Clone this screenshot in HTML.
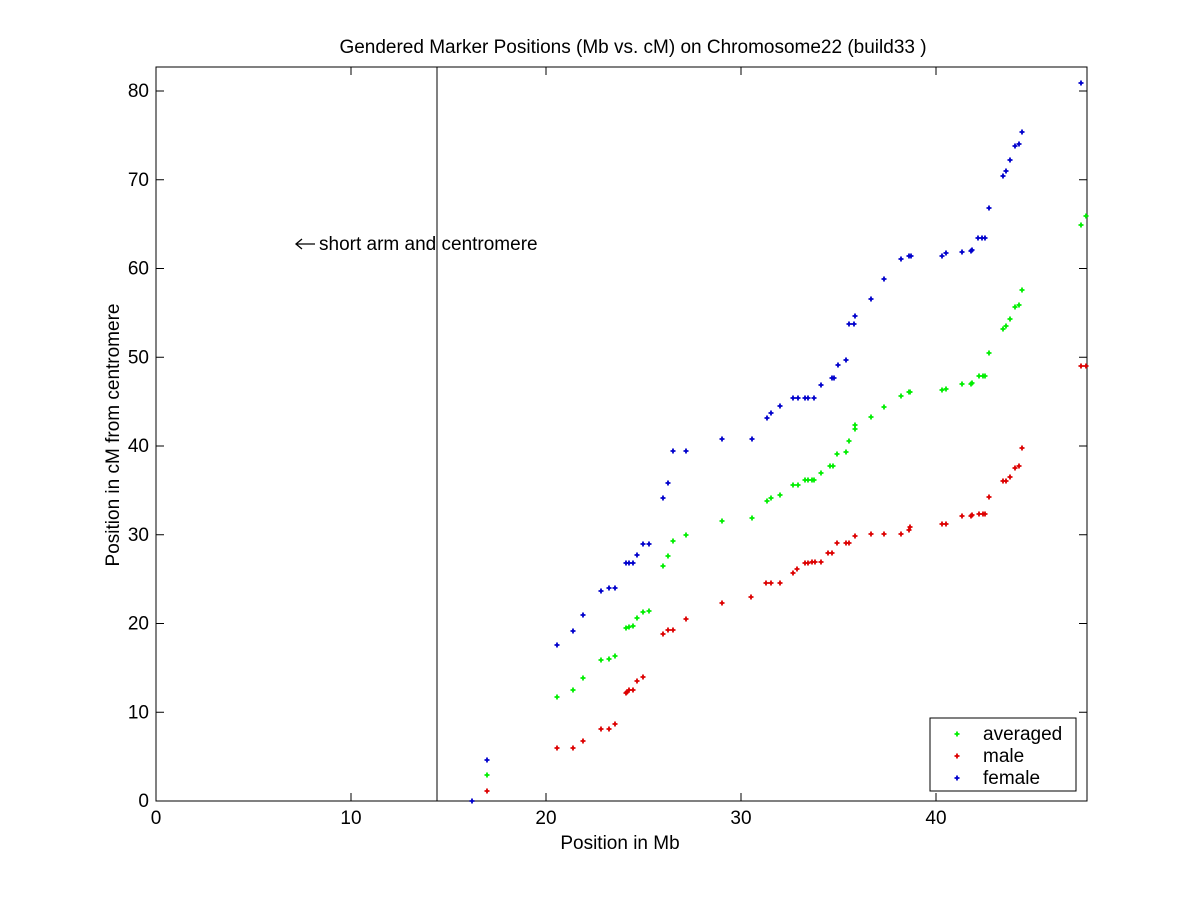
<!DOCTYPE html>
<html><head><meta charset="utf-8"><style>
body{margin:0;background:#fff}
svg{display:block}
text{font-family:"Liberation Sans",sans-serif;font-size:19px;fill:#000}
</style></head><body>
<svg id="s" width="1200" height="900" xmlns="http://www.w3.org/2000/svg">
<rect width="1200" height="900" fill="#fff"/>
<rect x="156" y="67" width="931" height="734" fill="none" stroke="#000" stroke-width="1"/>
<line x1="437" y1="67" x2="437" y2="801" stroke="#000"/>
<g id="ticks" stroke="#000"></g>
<g id="pts"></g>
<text x="633" y="53" text-anchor="middle" font-size="18.3">Gendered Marker Positions (Mb vs. cM) on Chromosome22 (build33 )</text>
<text x="620" y="849" text-anchor="middle">Position in Mb</text>
<text transform="translate(119,435) rotate(-90)" text-anchor="middle">Position in cM from centromere</text>
<line x1="297" y1="244" x2="315" y2="244" stroke="#000" stroke-width="1.3"/>
<path d="M302 239 L296 244 L302 249" fill="none" stroke="#000" stroke-width="1.3"/>
<text x="319" y="250">short arm and centromere</text>
<rect x="930" y="718" width="146" height="73" fill="#fff" stroke="#000"/>
<text x="983" y="740" font-size="19.5">averaged</text>
<text x="983" y="762" font-size="19.5">male</text>
<text x="983" y="784" font-size="19.5">female</text>
<g id="leg"></g>
</svg>
<script>
var s="http://www.w3.org/2000/svg",t=document.getElementById('ticks'),p=document.getElementById('pts'),lg=document.getElementById('leg'),sv=document.getElementById('s');
function el(n,a,par){var e=document.createElementNS(s,n);for(var k in a)e.setAttribute(k,a[k]);(par||sv).appendChild(e);return e;}
for(var i=0;i<=4;i++){var x=156+195*i;el('line',{x1:x,y1:801,x2:x,y2:793},t);el('line',{x1:x,y1:67,x2:x,y2:75},t);var tx=el('text',{x:x,y:824,'text-anchor':'middle','font-size':17});tx.textContent=i*10;}
for(var j=0;j<=8;j++){var y=801-88.75*j;el('line',{x1:156,y1:y,x2:164,y2:y},t);el('line',{x1:1087,y1:y,x2:1079,y2:y},t);var ty=el('text',{x:149,y:y+6,'text-anchor':'end','font-size':17});ty.textContent=j*10;}
function mk(x,y,c,par){el('path',{d:'M'+(x-2.5)+' '+y+'h5M'+x+' '+(y-2.5)+'v5',stroke:c,'stroke-width':1.8},par||p);}
var B=[[472,801],[487,760],[557,645],[573,631],[583,615],[601,591],[609,588],[615,588],[626,563],[629,563],[633,563],[637,555],[643,544],[649,544],[663,498],[668,483],[673,451],[686,451],[722,439],[752,439],[767,418],[771,413],[780,406],[793,398],[798,398],[805,398],[808,398],[814,398],[821,385],[832,378],[834,378],[838,365],[846,360],[849,324],[854,324],[855,316],[871,299],[884,279],[901,259],[909,256],[911,256],[942,256],[946,253],[962,252],[971,251],[972,250],[978,238],[982,238],[985,238],[989,208],[1003,176],[1006,171],[1010,160],[1015,146],[1019,144],[1022,132],[1081,83]];
var G=[[487,775],[557,697],[573,690],[583,678],[601,660],[609,659],[615,656],[626,628],[629,627],[633,626],[637,618],[643,612],[649,611],[663,566],[668,556],[673,541],[686,535],[722,521],[752,518],[767,501],[771,498],[780,495],[793,485],[798,485],[805,480],[808,480],[812,480],[814,480],[821,473],[830,466],[833,466],[837,454],[846,452],[849,441],[855,429],[855,425],[871,417],[884,407],[901,396],[909,392],[910,392],[942,390],[946,389],[962,384],[971,384],[972,383],[979,376],[983,376],[985,376],[989,353],[1003,329],[1006,326],[1010,319],[1015,307],[1019,305],[1022,290],[1081,225],[1086,216]];
var R=[[487,791],[557,748],[573,748],[583,741],[601,729],[609,729],[615,724],[626,693],[627,692],[629,690],[633,690],[637,681],[643,677],[663,634],[668,630],[673,630],[686,619],[722,603],[751,597],[766,583],[771,583],[780,583],[793,573],[797,569],[805,563],[808,563],[812,562],[815,562],[821,562],[828,553],[832,553],[837,543],[846,543],[849,543],[855,536],[871,534],[884,534],[901,534],[909,530],[910,527],[942,524],[946,524],[962,516],[971,516],[972,515],[979,514],[983,514],[985,514],[989,497],[1003,481],[1006,481],[1010,477],[1015,468],[1019,466],[1022,448],[1081,366],[1086,366]];
G.forEach(function(a){mk(a[0],a[1],'#00ee00')});R.forEach(function(a){mk(a[0],a[1],'#dd0000')});B.forEach(function(a){mk(a[0],a[1],'#0000cc')});
mk(957,734,'#00ee00',lg);mk(957,756,'#dd0000',lg);mk(957,778,'#0000cc',lg);
</script>
</body></html>
